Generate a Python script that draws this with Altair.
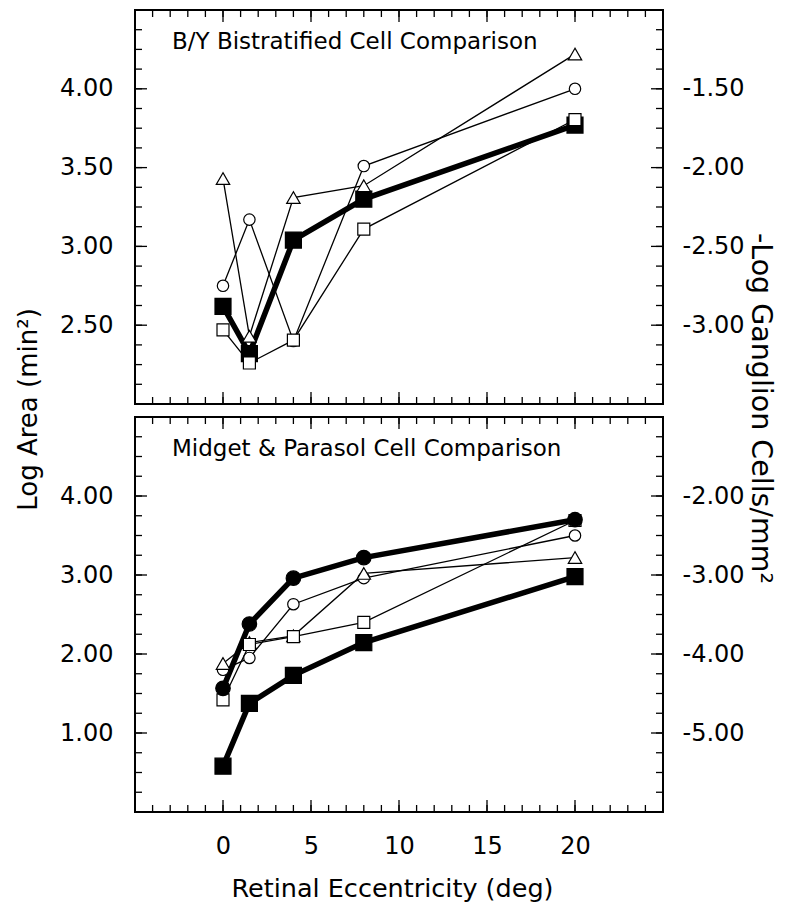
import altair as alt
import pandas as pd

# ---------------- data ----------------
ECC = [0, 1.5, 4, 8, 20]

# Top panel: B/Y bistratified cell comparison (Log Area, min^2)
BY_FILLED_SQ = [2.62, 2.32, 3.04, 3.30, 3.77]
BY_OPEN_CIRCLE = [2.75, 3.17, 2.40, 3.51, 4.00]
BY_OPEN_TRI = [3.43, 2.43, 3.31, 3.385, 4.22]
BY_OPEN_SQ = [2.47, 2.26, 2.405, 3.11, 3.805]

# Bottom panel: midget & parasol cell comparison
MP_FILLED_CIRCLE = [1.565, 2.38, 2.96, 3.22, 3.70]
MP_FILLED_SQ = [0.58, 1.375, 1.73, 2.145, 2.98]
MP_OPEN_CIRCLE = [1.80, 1.95, 2.63, 2.96, 3.50]
MP_OPEN_TRI = [1.88, 2.145, 2.23, 3.02, 3.22]
MP_OPEN_SQ = [1.42, 2.12, 2.22, 2.40, 3.69]

# axis tick labels / tick positions
X_LABELS = [0, 5, 10, 15, 20]
X_MAJOR = [-5, 0, 5, 10, 15, 20, 25]
X_MINOR = list(range(-5, 26))
TOP_LEFT_LABELS = [2.5, 3.0, 3.5, 4.0]
TOP_RIGHT_LABELS = [-1.5, -2.0, -2.5, -3.0]
TOP_Y_MINOR = [2.0 + 0.125 * i for i in range(21)]
BOT_LEFT_LABELS = [1.0, 2.0, 3.0, 4.0]
BOT_RIGHT_LABELS = [-2.0, -3.0, -4.0, -5.0]
BOT_Y_MINOR = [0.25 * i for i in range(21)]

FONT = "DejaVu Sans"
W = 528
MAJ = 12
MIN = 7
XDOM = [-5, 25]
LABEL_SIZE = 24


def panel(H, ydom, rdom, series, y_minor, left_labels, right_labels, title,
          show_x, open_on_top, left_title=None, right_title=None):
    xs = alt.Scale(domain=XDOM, nice=False, zero=False)
    ys = alt.Scale(domain=ydom, nice=False, zero=False)
    layers = []

    def rule_base(vals):
        return alt.Chart(pd.DataFrame({"v": vals})).mark_rule(color="black", strokeWidth=1.3)

    # inward frame ticks
    for vals, L in [(y_minor, MIN), (left_labels, MAJ)]:
        layers.append(rule_base(vals).encode(
            y=alt.Y("v:Q", scale=ys, axis=None), x=alt.value(0), x2=alt.value(L)))
        layers.append(rule_base(vals).encode(
            y=alt.Y("v:Q", scale=ys, axis=None), x=alt.value(W), x2=alt.value(W - L)))
    for vals, L in [(X_MINOR, MIN), (X_MAJOR, MAJ)]:
        layers.append(rule_base(vals).encode(
            x=alt.X("v:Q", scale=xs, axis=None), y=alt.value(H), y2=alt.value(H - L)))
        layers.append(rule_base(vals).encode(
            x=alt.X("v:Q", scale=xs, axis=None), y=alt.value(0), y2=alt.value(L)))

    # series lines then markers
    lines, filled_pts, open_pts = [], [], []
    for vals, shape, filled, size, lw in series:
        df = pd.DataFrame({"x": ECC, "y": vals})
        enc = dict(x=alt.X("x:Q", scale=xs, axis=None), y=alt.Y("y:Q", scale=ys, axis=None))
        line = alt.Chart(df).mark_line(color="black", strokeWidth=lw).encode(**enc)
        pt = alt.Chart(df).mark_point(
            shape=shape, filled=True, fill="black" if filled else "white", stroke="black",
            strokeWidth=1.2, size=size, opacity=1).encode(**enc)
        lines.append((lw, line))
        (filled_pts if filled else open_pts).append(pt)
    lines.sort(key=lambda t: t[0])
    layers += [l for _, l in lines]
    layers += (filled_pts + open_pts) if open_on_top else (open_pts + filled_pts)
    main = alt.layer(*layers)

    # left axis (labels only)
    left_axis_kw = dict(orient="left", values=left_labels, ticks=False, domain=False,
                        grid=False, labelPadding=22, labelFontSize=LABEL_SIZE, labelFont=FONT,
                        labelColor="black", labelExpr="format(datum.value, '.2f')")
    if left_title:
        left_axis_kw.update(title=left_title, titleAngle=270, titleX=-107, titleY=399,
                            titleAlign="center", titleBaseline="middle", titleFontSize=26,
                            titleFont=FONT, titleFontWeight="normal", titleColor="black")
    else:
        left_axis_kw.update(title=None)
    left = alt.Chart(pd.DataFrame({"v": left_labels})).mark_point(opacity=0).encode(
        y=alt.Y("v:Q", scale=alt.Scale(domain=ydom, nice=False, zero=False),
                axis=alt.Axis(**left_axis_kw)))

    # right axis (labels only)
    right_axis_kw = dict(orient="right", values=right_labels, ticks=False, domain=False,
                         grid=False, labelPadding=19, labelAlign="left",
                         labelFontSize=LABEL_SIZE, labelFont=FONT, labelColor="black",
                         labelExpr="(datum.value < 0 ? '-' : '') + format(abs(datum.value), '.2f')")
    if right_title:
        right_axis_kw.update(title=right_title, titleAngle=90, titleX=97, titleY=398,
                             titleAlign="center", titleBaseline="middle", titleFontSize=28.5,
                             titleFont=FONT, titleFontWeight="normal", titleColor="black")
    else:
        right_axis_kw.update(title=None)
    right = alt.Chart(pd.DataFrame({"r": right_labels})).mark_point(opacity=0).encode(
        y=alt.Y("r:Q", scale=alt.Scale(domain=rdom, nice=False, zero=False),
                axis=alt.Axis(**right_axis_kw)))

    parts = [main, left, right]
    if show_x:
        x_axis_kw = dict(orient="bottom", values=X_LABELS, ticks=False, domain=False,
                         grid=False, labelPadding=22, labelFontSize=LABEL_SIZE, labelFont=FONT,
                         labelColor="black", title="Retinal Eccentricity (deg)",
                         titleFontSize=25.5, titleFont=FONT, titleFontWeight="normal",
                         titleColor="black", titleY=84, titleX=257, titleAlign="center",
                         titleBaseline="alphabetic")
        xax = alt.Chart(pd.DataFrame({"v": X_LABELS})).mark_point(opacity=0).encode(
            x=alt.X("v:Q", scale=alt.Scale(domain=XDOM, nice=False, zero=False),
                    axis=alt.Axis(**x_axis_kw)))
        parts.append(xax)

    return alt.layer(*parts).resolve_scale(x="independent", y="independent").properties(
        width=W, height=H,
        title=alt.TitleParams(text=title, anchor="start", frame="group", dx=37, dy=63,
                              offset=0, baseline="alphabetic", fontSize=23, font=FONT,
                              fontWeight="normal", color="black"))


top_series = [
    (BY_OPEN_CIRCLE, "circle", False, 130, 1.3),
    (BY_OPEN_TRI, "triangle-up", False, 180, 1.3),
    (BY_OPEN_SQ, "square", False, 144, 1.3),
    (BY_FILLED_SQ, "square", True, 256, 5.5),
]
bot_series = [
    (MP_OPEN_CIRCLE, "circle", False, 130, 1.3),
    (MP_OPEN_TRI, "triangle-up", False, 180, 1.3),
    (MP_OPEN_SQ, "square", False, 144, 1.3),
    (MP_FILLED_CIRCLE, "circle", True, 210, 5.5),
    (MP_FILLED_SQ, "square", True, 256, 5.5),
]

top = panel(394, [2.0, 4.5], [-3.5, -1.0], top_series, TOP_Y_MINOR, TOP_LEFT_LABELS,
            TOP_RIGHT_LABELS, "B/Y Bistratified Cell Comparison", False, True,
            left_title="Log Area (min²)", right_title="-Log Ganglion Cells/mm²")
bottom = panel(395, [0.0, 5.0], [-6.0, -1.0], bot_series, BOT_Y_MINOR, BOT_LEFT_LABELS,
               BOT_RIGHT_LABELS, "Midget & Parasol Cell Comparison", True, False)

chart = alt.vconcat(top, bottom, spacing=13, bounds="flush").resolve_scale(
    x="independent", y="independent").properties(
    padding={"left": 6, "top": 0, "right": 5, "bottom": 5},
    background="white",
).configure_view(stroke="black", strokeWidth=2)

chart.save("out.html", embed_options={"renderer": "svg", "actions": False})
